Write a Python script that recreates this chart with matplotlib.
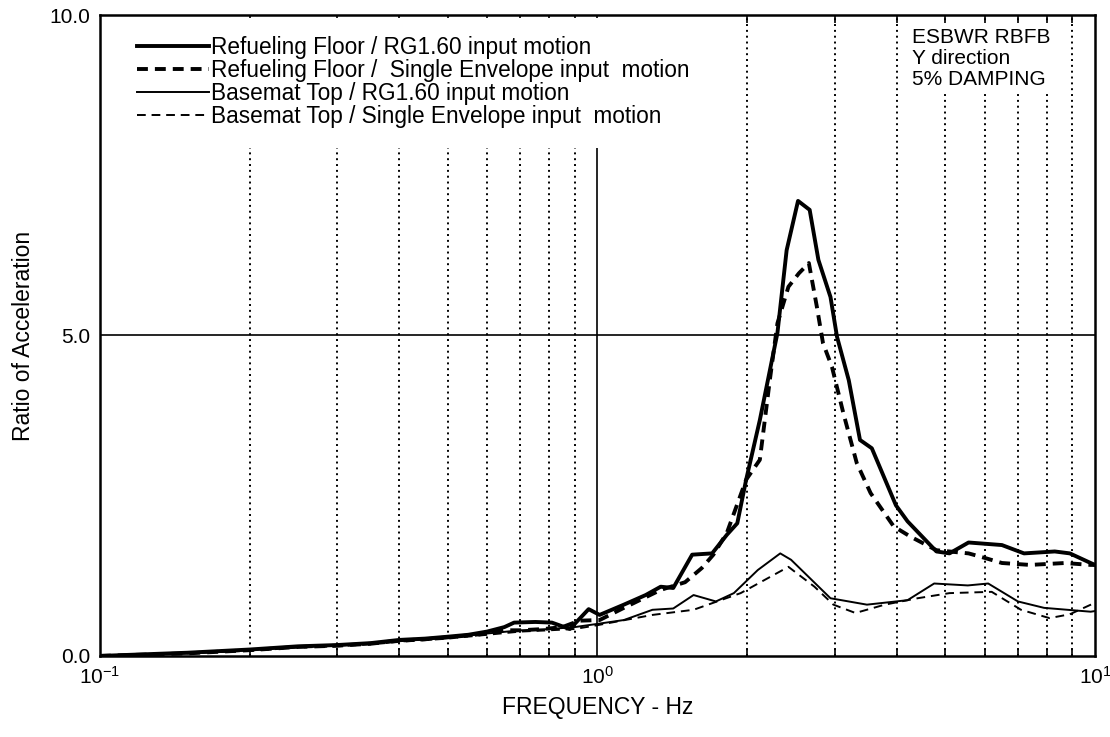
import matplotlib
matplotlib.use("Agg")
import matplotlib.pyplot as plt
from matplotlib.patches import Rectangle
import numpy as np

plt.rcParams['font.family'] = ['Liberation Sans', 'DejaVu Sans']

# Refueling Floor / RG1.60 input motion
rf_rg_f = [0.1, 0.15, 0.2, 0.25, 0.3, 0.35, 0.4, 0.45, 0.5, 0.55, 0.6, 0.65, 0.68, 0.75, 0.81,
           0.88, 0.96, 1.01, 1.13, 1.25, 1.34, 1.42, 1.55, 1.70, 1.82, 1.91, 1.99, 2.12, 2.3,
           2.4, 2.53, 2.67, 2.78, 2.94, 3.03, 3.2, 3.37, 3.56, 3.98, 4.2, 4.8, 5.1, 5.57, 6.5,
           7.2, 8.3, 8.9, 9.8, 10.0]
rf_rg_v = [0.0, 0.05, 0.1, 0.15, 0.17, 0.2, 0.25, 0.27, 0.3, 0.33, 0.38, 0.45, 0.52, 0.53, 0.52,
           0.42, 0.73, 0.64, 0.8, 0.95, 1.08, 1.06, 1.58, 1.6, 1.89, 2.07, 2.75, 3.68, 5.04,
           6.33, 7.1, 6.96, 6.18, 5.6, 4.98, 4.3, 3.37, 3.24, 2.35, 2.1, 1.63, 1.6, 1.77, 1.73,
           1.6, 1.63, 1.6, 1.45, 1.42]

# Refueling Floor / Single Envelope input motion
rf_se_f = [0.1, 0.15, 0.2, 0.25, 0.3, 0.35, 0.4, 0.45, 0.5, 0.55, 0.6, 0.65, 0.7, 0.78, 0.85,
           0.92, 1.01, 1.13, 1.34, 1.5, 1.62, 1.71, 1.82, 1.99, 2.12, 2.22, 2.3, 2.42, 2.54,
           2.66, 2.76, 2.84, 2.96, 3.12, 3.32, 3.54, 3.94, 4.26, 4.8, 5.57, 6.0, 6.5, 7.4, 8.7,
           9.8, 10.0]
rf_se_v = [0.0, 0.04, 0.09, 0.14, 0.16, 0.19, 0.24, 0.26, 0.29, 0.32, 0.35, 0.4, 0.4, 0.42, 0.45,
           0.55, 0.56, 0.75, 1.03, 1.15, 1.37, 1.58, 1.92, 2.75, 3.06, 4.3, 5.19, 5.76, 5.97,
           6.13, 5.45, 4.88, 4.51, 3.79, 3.01, 2.54, 2.02, 1.86, 1.65, 1.6, 1.53, 1.45, 1.42, 1.45,
           1.42, 1.42]

# Basemat Top / RG1.60 input motion
bm_rg_f = [0.1, 0.15, 0.2, 0.25, 0.3, 0.35, 0.4, 0.5, 0.6, 0.7, 0.8, 0.9, 1.0, 1.13, 1.29, 1.42,
           1.56, 1.73, 1.88, 2.1, 2.33, 2.45, 2.94, 3.48, 4.2, 4.75, 5.55, 6.1, 7.0, 7.9, 9.8, 10.0]
bm_rg_v = [0.0, 0.04, 0.09, 0.14, 0.16, 0.19, 0.23, 0.28, 0.35, 0.4, 0.42, 0.45, 0.5, 0.56, 0.72,
           0.74, 0.95, 0.85, 0.98, 1.34, 1.6, 1.5, 0.9, 0.8, 0.87, 1.13, 1.1, 1.13, 0.85, 0.75,
           0.69, 0.7]

# Basemat Top / Single Envelope input motion
bm_se_f = [0.1, 0.15, 0.2, 0.25, 0.3, 0.35, 0.4, 0.5, 0.6, 0.7, 0.8, 0.9, 1.0, 1.29, 1.56, 1.94,
           2.42, 2.73, 2.98, 3.3, 3.78, 4.4, 5.1, 6.2, 7.1, 8.1, 8.9, 10.0]
bm_se_v = [0.0, 0.04, 0.08, 0.13, 0.15, 0.18, 0.22, 0.27, 0.33, 0.38, 0.4, 0.42, 0.48, 0.64, 0.72,
           0.98, 1.39, 1.08, 0.8, 0.67, 0.8, 0.9, 0.98, 1.0, 0.72, 0.59, 0.65, 0.83]

labels = ["Refueling Floor / RG1.60 input motion",
          "Refueling Floor /  Single Envelope input  motion",
          "Basemat Top / RG1.60 input motion",
          "Basemat Top / Single Envelope input  motion"]

fig = plt.figure(figsize=(11.1, 7.37), dpi=100)
ax = fig.add_axes([0.09, 0.11, 0.8965, 0.8696])

# grid
for g in [0.2, 0.3, 0.4, 0.5, 0.6, 0.7, 0.8, 0.9, 2, 3, 4, 5, 6, 7, 8, 9]:
    ax.axvline(g, color='black', lw=1.4, ls=(0, (1, 2)), zorder=1)
ax.axvline(1.0, color='black', lw=1.2, zorder=1)
ax.axhline(5.0, color='black', lw=1.2, zorder=1)

# white area behind the legend text
ax.add_patch(Rectangle((0.004, 0.792), 0.574, 0.204, transform=ax.transAxes,
                       facecolor='white', edgecolor='none', zorder=2))

ax.plot(rf_rg_f, rf_rg_v, color='black', lw=2.8, label=labels[0], zorder=3)
ax.plot(rf_se_f, rf_se_v, color='black', lw=2.8, ls=(0, (2.8, 1.8)), label=labels[1], zorder=3)
ax.plot(bm_rg_f, bm_rg_v, color='black', lw=1.4, label=labels[2], zorder=3)
ax.plot(bm_se_f, bm_se_v, color='black', lw=1.4, ls=(0, (4.5, 3)), label=labels[3], zorder=3)

ax.set_xscale('log')
ax.set_xlim(0.1, 10)
ax.set_ylim(0, 10)
ax.set_yticks([0, 5, 10])
ax.set_yticklabels(["0.0", "5.0", "10.0"])
ax.set_xticks([0.1, 1, 10])
ax.set_xticklabels([r"$\mathregular{10^{-1}}$", r"$\mathregular{10^{0}}$", r"$\mathregular{10^{1}}$"])
ax.tick_params(axis='both', which='major', labelsize=15, direction='in', length=0, pad=7)
ax.tick_params(axis='x', which='minor', direction='in', length=6, top=True, width=1.2)
ax.xaxis.set_minor_formatter(matplotlib.ticker.NullFormatter())
for s in ax.spines.values():
    s.set_linewidth(1.8)
    s.set_zorder(4)

ax.set_xlabel("FREQUENCY - Hz", fontsize=16.5, labelpad=6)
ax.set_ylabel("Ratio of Acceleration", fontsize=16.5, labelpad=10)

leg = ax.legend(loc='upper left', frameon=False, fontsize=16.3, handlelength=3.15,
                handletextpad=0.1, labelspacing=0.0, borderaxespad=0.0, borderpad=0.2,
                bbox_to_anchor=(0.033, 0.975))
leg.set_zorder(5)

ax.text(0.816, 0.98, "ESBWR RBFB\nY direction\n5% DAMPING", transform=ax.transAxes,
        fontsize=15, va='top', ha='left', linespacing=1.15, zorder=6,
        bbox=dict(facecolor='white', edgecolor='none', pad=3))

fig.savefig("out.png", dpi=100)
